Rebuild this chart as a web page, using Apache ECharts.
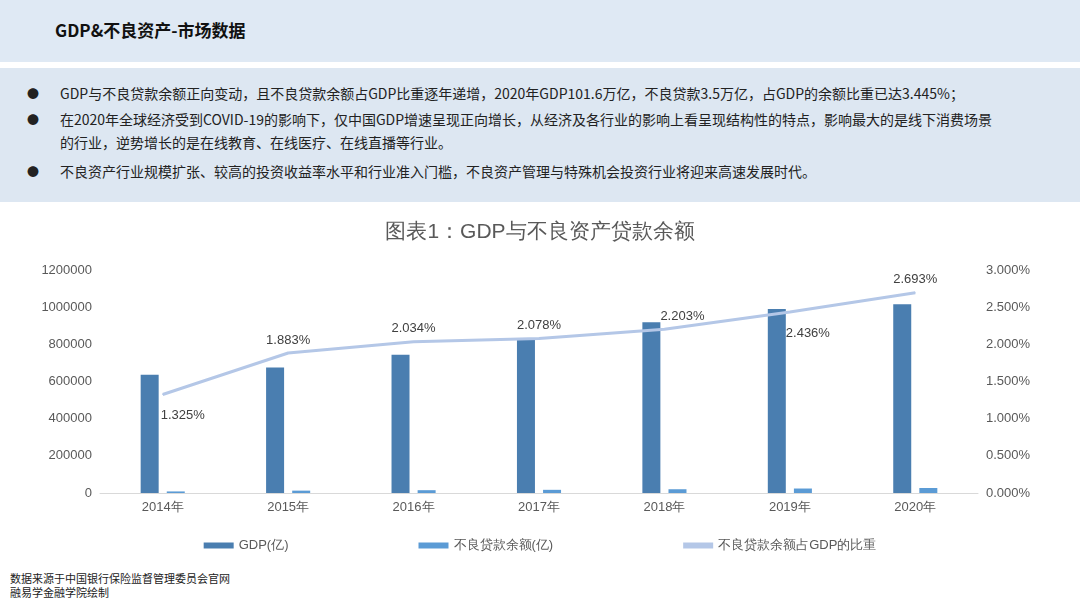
<!DOCTYPE html>
<html><head><meta charset="utf-8">
<script src="https://cdn.jsdelivr.net/npm/echarts@6/dist/echarts.min.js"></script>
<style>
body{margin:0;width:1080px;height:608px;position:relative;background:#fff;font-family:"Noto Sans CJK SC","Noto Sans",sans-serif;overflow:hidden}
#head{position:absolute;left:0;top:0;width:1080px;height:62px;background:#dfe9f4}
#head span{position:absolute;left:55px;top:17px;font-size:17px;font-weight:bold;color:#111}
#txt{position:absolute;left:0;top:68px;width:1080px;height:134px;background:#dde7f2;font-size:14px;color:#222;line-height:23px}
.b{position:absolute;left:60px;width:945px}
.b:before{content:"●";position:absolute;left:-33px;font-size:12px}
#chart{position:absolute;left:0;top:205px;width:1080px;height:360px}
#foot{position:absolute;left:10px;top:571px;font-size:11px;color:#222;line-height:14px}
</style></head><body>
<div id="head"><span>GDP&amp;不良资产-市场数据</span></div>
<div id="txt">
<div class="b" style="top:14px;width:1010px">GDP与不良贷款余额正向变动，且不良贷款余额占GDP比重逐年递增，2020年GDP101.6万亿，不良贷款3.5万亿，占GDP的余额比重已达3.445%；</div>
<div class="b" style="top:40px">在2020年全球经济受到COVID-19的影响下，仅中国GDP增速呈现正向增长，从经济及各行业的影响上看呈现结构性的特点，影响最大的是线下消费场景的行业，逆势增长的是在线教育、在线医疗、在线直播等行业。</div>
<div class="b" style="top:92px;width:1010px">不良资产行业规模扩张、较高的投资收益率水平和行业准入门槛，不良资产管理与特殊机会投资行业将迎来高速发展时代。</div>
</div>
<div id="chart"></div>
<div id="foot">数据来源于中国银行保险监督管理委员会官网<br>融易学金融学院绘制</div>
<script>
const years = ['2014年','2015年','2016年','2017年','2018年','2019年','2020年'];
const gdp = [636000, 676000, 744000, 827000, 919000, 990000, 1016000];
const npl = [8426, 12744, 15122, 17057, 20254, 24135, 27000];
const ratio = [1.325, 1.883, 2.034, 2.078, 2.203, 2.436, 2.693];
const labelBelow = [true, false, false, false, false, true, false];
const labelShift = [20, 0, 0, 0, 18, 18, 0];

const chart = echarts.init(document.getElementById('chart'));
const axisText = {color:'#595959', fontSize:13};
chart.setOption({
  title:{text:'图表1：GDP与不良资产贷款余额', left:'center', top:12, textStyle:{color:'#595959', fontSize:21, fontWeight:'normal'}},
  legend:{bottom:8, itemGap:130, icon:'rect', itemWidth:30, itemHeight:6, textStyle:{color:'#595959', fontSize:13},
    data:['GDP(亿)','不良贷款余额(亿)','不良贷款余额占GDP的比重']},
  grid:{left:100, right:102, top:65, bottom:72},
  xAxis:{type:'category', data:years, axisTick:{show:false}, axisLine:{lineStyle:{color:'#d9d9d9'}}, axisLabel:axisText},
  yAxis:[
    {type:'value', min:0, max:1200000, interval:200000, splitLine:{show:false}, axisLabel:{...axisText, formatter:v=>String(v)}},
    {type:'value', min:0, max:3, interval:0.5, splitLine:{show:false}, axisLabel:{...axisText, formatter:v=>v.toFixed(3)+'%'}}
  ],
  series:[
    {name:'GDP(亿)', type:'bar', data:gdp, barWidth:18, barGap:'45%', itemStyle:{color:'#4a7eb0'}},
    {name:'不良贷款余额(亿)', type:'bar', data:npl, barWidth:18, itemStyle:{color:'#5b9bd5'}},
    {name:'不良贷款余额占GDP的比重', type:'line', yAxisIndex:1, z:3,
      data:ratio.map((v,i)=>({value:v, label:labelBelow[i]?{position:'bottom', distance:14, offset:[labelShift[i],0]}:{position:'top', distance:6, offset:[labelShift[i],0]}})),
      symbol:'circle', symbolSize:1, showSymbol:true, lineStyle:{color:'#b4c7e7', width:3}, itemStyle:{color:'#b4c7e7'},
      label:{show:true, color:'#404040', fontSize:13, formatter:p=>p.value.toFixed(3)+'%'}}
  ]
});
</script>
</body></html>
